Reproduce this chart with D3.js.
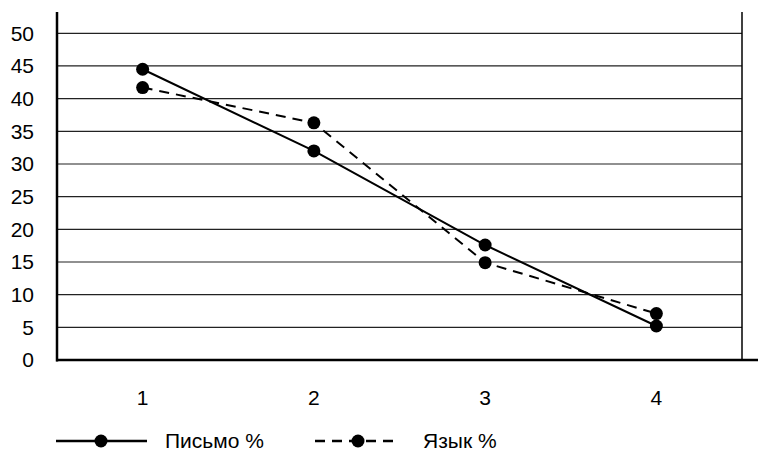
<!DOCTYPE html>
<html><head><meta charset="utf-8">
<script src="https://cdn.jsdelivr.net/npm/d3@7"></script>
<style>body{margin:0;background:#fff;} svg{display:block;font-family:"Liberation Sans",Arial,sans-serif;}</style>
</head><body>
<svg id="c" width="758" height="451"></svg>
<script>
const categories = ["1","2","3","4"];
const yTicks = [0,5,10,15,20,25,30,35,40,45,50];
const pismo = [44.5, 32.0, 17.6, 5.2];
const yazyk = [41.7, 36.3, 14.9, 7.1];
const seriesNames = ["Письмо %", "Язык %"];

(function () {
const svg = d3.select("#c");
const FS = 21;
const pL = 57, pR = 742, pT = 12, pB = 360;
const x = d3.scaleBand().domain(categories).range([pL, pR]);
const y = d3.scaleLinear().domain([0, 50]).range([pB, 33.3]);

// gridlines
svg.append("g").selectAll("line").data(yTicks.filter(d => d > 0)).join("line")
  .attr("x1", pL).attr("x2", pR)
  .attr("y1", d => y(d)).attr("y2", d => y(d))
  .attr("stroke", "#222").attr("stroke-width", 1.2);

// right border
svg.append("line").attr("x1", pR).attr("x2", pR).attr("y1", pT).attr("y2", pB)
  .attr("stroke", "#000").attr("stroke-width", 1.5);

// y axis
const yAxis = svg.append("g").attr("transform", `translate(${pL},0)`)
  .call(d3.axisLeft(y).tickValues(yTicks).tickSize(0).tickPadding(23));
yAxis.select(".domain").remove();
yAxis.selectAll("text").attr("font-size", FS).attr("fill", "#000")
  .attr("font-family", '"Liberation Sans",Arial,sans-serif');
svg.append("line").attr("x1", pL).attr("x2", pL).attr("y1", pT).attr("y2", pB + 1.5)
  .attr("stroke", "#000").attr("stroke-width", 2.5);

// x axis
const xAxis = svg.append("g").attr("transform", `translate(0,${pB})`)
  .call(d3.axisBottom(x).tickSize(0).tickPadding(30));
xAxis.select(".domain").remove();
xAxis.selectAll("text").attr("font-size", FS).attr("fill", "#000")
  .attr("font-family", '"Liberation Sans",Arial,sans-serif');
svg.append("line").attr("x1", pL - 1).attr("x2", 758).attr("y1", pB).attr("y2", pB)
  .attr("stroke", "#000").attr("stroke-width", 2.5);

const cx = d => x(d) + x.bandwidth() / 2;
const line = d3.line().x(d => cx(d.c)).y(d => y(d.v));
const toPts = arr => categories.map((c, i) => ({c, v: arr[i]}));

const series = [
  {name: seriesNames[0], data: toPts(pismo), dash: null},
  {name: seriesNames[1], data: toPts(yazyk), dash: "10,7"}
];

series.forEach(s => {
  svg.append("path").attr("d", line(s.data)).attr("fill", "none")
    .attr("stroke", "#000").attr("stroke-width", 2)
    .attr("stroke-dasharray", s.dash);
  svg.append("g").selectAll("circle").data(s.data).join("circle")
    .attr("cx", d => cx(d.c)).attr("cy", d => y(d.v)).attr("r", 6.5).attr("fill", "#000");
});

// legend
const legY = 441;
const leg = [
  {x1: 56, x2: 147, mx: 101, tx: 165},
  {x1: 315, x2: 400, mx: 358, tx: 423}
];
series.forEach((s, i) => {
  const l = leg[i];
  svg.append("line").attr("x1", l.x1).attr("x2", l.x2).attr("y1", legY).attr("y2", legY)
    .attr("stroke", "#000").attr("stroke-width", 2.5).attr("stroke-dasharray", s.dash);
  svg.append("circle").attr("cx", l.mx).attr("cy", legY).attr("r", 6.5).attr("fill", "#000");
  svg.append("text").attr("x", l.tx).attr("y", 448)
    .attr("font-size", FS).attr("fill", "#000").text(s.name);
});
})();
</script>
</body></html>
